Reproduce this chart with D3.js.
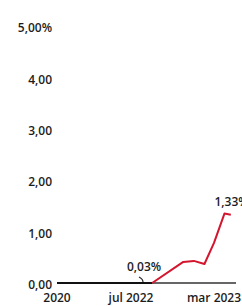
<!DOCTYPE html>
<html>
<head>
<meta charset="utf-8">
<script src="https://cdn.jsdelivr.net/npm/d3@7"></script>
<style>
  body { margin: 0; background: #fff; }
  text { font-family: "Open Sans", sans-serif; font-weight: 600; fill: #1d1d1d; }
</style>
</head>
<body>
<svg width="242" height="306"></svg>
<script>
// data: rente per maand (in %)
var dates = ["2020-01-01", "2022-07-01", "2022-09-01", "2022-12-01", "2023-01-01", "2023-02-01", "2023-03-01", "2023-04-01", "2023-04-20"];
var values = [0, 0.03, 0, 0.41, 0.43, 0.37, 0.78, 1.35, 1.33];
var yTicks = [0, 1, 2, 3, 4, 5];
var yTickLabels = ["0,00", "1,00", "2,00", "3,00", "4,00", "5,00%"];
var xTicks = ["2020-01-01", "2022-07-01", "2023-03-01"];
var xTickLabels = ["2020", "jul 2022", "mar 2023"];

var parse = d3.timeParse("%Y-%m-%d");
var svg = d3.select("svg");

// as is niet lineair: 2020-2022 ingedrukt
var x = d3.scaleTime()
  .domain([parse("2020-01-01"), parse("2022-07-01"), parse("2023-03-01"), parse("2023-06-01")])
  .range([57, 131, 214, 245]);
var y = d3.scaleLinear().domain([0, 5]).range([283, 26]);

var pts = dates.map(function(d, i){ return {date: parse(d), v: values[i]}; });

// y labels
svg.selectAll(".ylab").data(yTicks).enter().append("text")
  .attr("class", "ylab")
  .attr("x", 52)
  .attr("y", function(d){ return y(d) + 2; })
  .attr("dy", "0.35em")
  .attr("text-anchor", "end")
  .attr("font-size", 12)
  .text(function(d, i){ return yTickLabels[i]; });

// x labels
svg.selectAll(".xlab").data(xTicks).enter().append("text")
  .attr("class", "xlab")
  .attr("x", function(d){ return x(parse(d)); })
  .attr("y", 298)
  .attr("dy", "0.35em")
  .attr("text-anchor", "middle")
  .attr("font-size", 12)
  .text(function(d, i){ return xTickLabels[i]; });

// nul-lijn
svg.append("line")
  .attr("x1", x(pts[0].date)).attr("x2", 236)
  .attr("y1", y(0)).attr("y2", y(0))
  .attr("stroke", "#333").attr("stroke-width", 1.5);

var line = d3.line()
  .x(function(d){ return x(d.date); })
  .y(function(d){ return y(d.v); });

// zwart deel (tot en met jul 2022)
svg.append("path")
  .datum(pts.slice(0, 3))
  .attr("d", d3.line().x(function(d){ return x(d.date); }).y(y(0)))
  .attr("fill", "none").attr("stroke", "#111").attr("stroke-width", 2);

// rood deel
svg.append("path")
  .datum(pts.slice(2))
  .attr("d", line)
  .attr("fill", "none")
  .attr("stroke", "#d4152e")
  .attr("stroke-width", 2)
  .attr("stroke-linejoin", "round");

// annotatie 0,03%
var p1 = pts[1];
svg.append("text")
  .attr("x", x(p1.date) + 13).attr("y", y(0) - 16)
  .attr("dy", "0.35em")
  .attr("text-anchor", "middle")
  .attr("font-size", 12)
  .text("0,03%");
svg.append("path")
  .attr("d", "M" + (x(p1.date) + 8) + "," + (y(0) - 6) + "Q" + (x(p1.date) + 12) + "," + (y(0) - 4) + " " + (x(p1.date) + 12) + "," + (y(0) - 1))
  .attr("fill", "none").attr("stroke", "#222").attr("stroke-width", 1.2);

// annotatie laatste waarde
var pl = pts[7];
svg.append("text")
  .attr("x", x(pl.date) - 10).attr("y", y(pl.v) - 12)
  .attr("dy", "0.35em")
  .attr("font-size", 12)
  .text("1,33%");
</script>
</body>
</html>
